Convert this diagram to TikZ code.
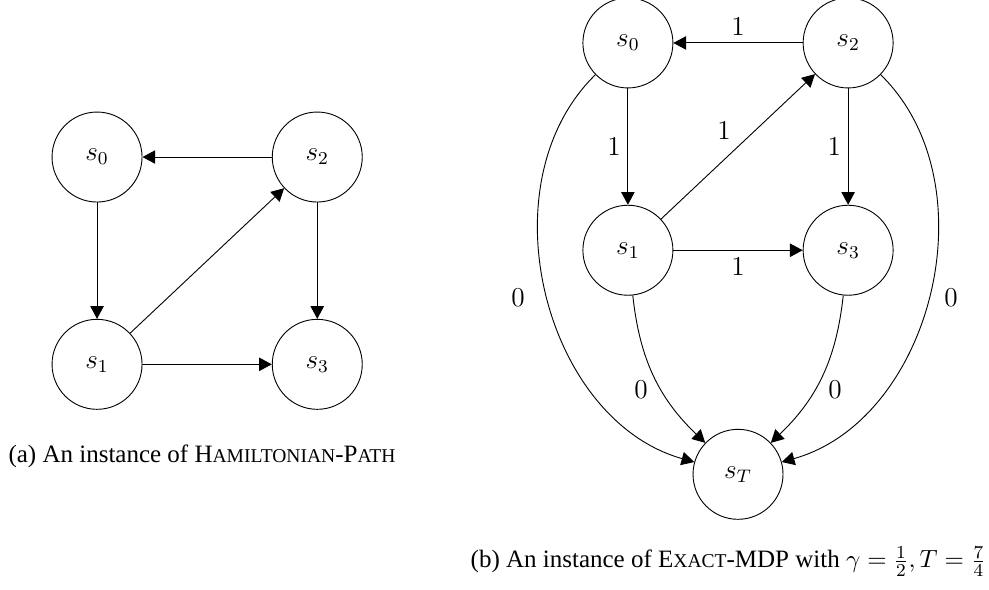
\documentclass[tikz,border=0pt]{standalone}
\usepackage{fontspec}
\setmainfont{Liberation Serif}
\usepackage{amsmath}
\usetikzlibrary{positioning, calc, arrows.meta}
\newcommand{\fakesc}[1]{{\fontsize{8.6pt}{10pt}\selectfont #1}}
\tikzset{
    statenode/.style={
        circle, draw, minimum size=39.6pt,
        inner sep=0pt, font=\large
    },
    weightlabel/.style={
        font=\large, inner sep=3pt
    },
    subcaption/.style={
        font=\fontsize{11pt}{13pt}\selectfont, inner sep=0pt, anchor=base
    },
    arc/.style={
        -{Triangle[length=5.6pt,width=5.9pt]}
    }
}

\begin{document}
\begin{tikzpicture}[node distance=1.8cm and 2cm]
    \useasboundingbox (0,0) rectangle (435.2pt,-259.6pt);

    % (a) Hamiltonian path
    \node[statenode] (h0) at (42.7pt,-69.1pt) {$s_0$};
    \node[statenode, right=of h0] (h2) {$s_2$};
    \node[statenode, below=of h0] (h1) {$s_1$};
    \node[statenode, below=of h2] (h3) {$s_3$};

    \draw[arc] (h2) -- (h0);
    \draw[arc] (h0) -- (h1);
    \draw[arc] (h1) -- (h2);
    \draw[arc] (h2) -- (h3);
    \draw[arc] (h1) -- (h3);

    \node[subcaption] (capa) at (88.9pt,-203.7pt)
        {(a) An instance of H\fakesc{AMILTONIAN}-P\fakesc{ATH}};

    % (b) Exact MDP
    \node[statenode] (m0) at (276.3pt,-18.9pt) {$s_0$};
    \node[statenode, right=of m0] (m2) {$s_2$};
    \node[statenode, below=of m0] (m1) {$s_1$};
    \node[statenode, below=of m2] (m3) {$s_3$};
    \coordinate (mmid) at ($(m1)!0.5!(m3)$);
    \node[statenode] (mT) at ($(mmid)+(0,-98.6pt)$) {$s_T$};

    \draw[arc] (m2) -- node[weightlabel, above] {$1$} (m0);
    \draw[arc] (m0) -- node[weightlabel, left] {$1$} (m1);
    \draw[arc] (m1) -- node[weightlabel, above left] {$1$} (m2);
    \draw[arc] (m2) -- node[weightlabel, left] {$1$} (m3);
    \draw[arc] (m1) -- node[weightlabel, below] {$1$} (m3);

    \draw[arc] (m0) to[bend right=60] node[weightlabel, left=7pt, pos=0.51] {$0$} (mT);
    \draw[arc] (m2) to[bend left=60] node[weightlabel, right=4pt, pos=0.51] {$0$} (mT);
    \draw[arc] (m1) to[bend right=20] node[weightlabel, left=3pt, pos=0.6] {$0$} (mT);
    \draw[arc] (m3) to[bend left=20] node[weightlabel, right=3pt, pos=0.6] {$0$} (mT);

    \node[subcaption] (capb) at (320.5pt,-249.9pt)
        {(b) An instance of E\fakesc{XACT}-MDP with $\gamma = \frac{1}{2}, T = \frac{7}{4}$};
\end{tikzpicture}
\end{document}
